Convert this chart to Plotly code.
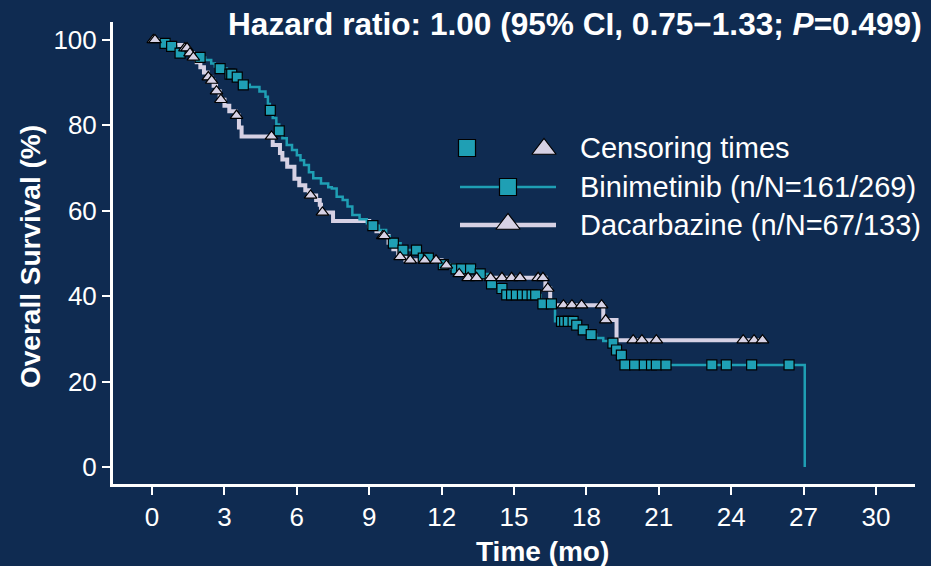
import plotly.graph_objects as go

# ---------------- data ----------------
bini_t = [0, 0.7, 0.8, 1.0, 1.15, 1.6, 1.99, 2.2, 2.45, 2.6, 2.8, 3.1, 3.23, 3.5, 3.7, 3.78,
          4.05, 4.45, 4.7, 4.8, 4.88, 5.0, 5.15, 5.27, 5.4, 5.58, 5.8, 6.0, 6.15, 6.3, 6.5,
          6.68, 7.0, 7.3, 7.45, 7.65, 7.9, 8.1, 8.3, 8.6, 8.9, 9.1, 9.4, 9.7, 9.85, 10.0,
          10.3, 10.4, 11.1, 11.6, 11.9, 12.4, 13.4, 14.0, 14.3, 14.65, 16.1, 16.7, 17.5,
          17.75, 18.1, 18.4, 18.7, 19.0, 19.2, 19.4, 19.55, 27.05]
bini_s = [100, 99.2, 98.5, 97.6, 96.9, 96.4, 95.9, 95.3, 94.5, 93.8, 93.3, 92.6, 92.0, 91.3, 90.4, 89.5,
          89.0, 87.9, 86.7, 85.0, 83.5, 81.7, 80.2, 78.7, 77.0, 75.4, 74.2, 73.0, 71.8, 70.7, 69.0,
          67.6, 66.4, 65.5, 65.2, 63.3, 62.5, 61.0, 59.0, 58.0, 57.1, 56.5, 55.5, 54.0, 53.0, 52.4,
          51.3, 50.8, 48.9, 48.0, 47.4, 46.4, 45.2, 42.9, 41.8, 40.3, 38.2, 34.1, 33.2,
          32.1, 31.0, 30.2, 29.5, 29.0, 27.4, 26.2, 23.9, 0]
bini_cens_t = [0.54, 0.81, 1.16, 1.99, 2.82, 3.23, 3.3, 3.53, 3.78, 4.9, 5.27,
               9.15, 10.0, 10.4, 10.96, 11.24, 11.45, 12.07, 12.6, 12.83, 13.2, 13.6, 14.07, 14.5,
               14.7, 14.9, 15.1, 15.35, 15.55, 15.75, 15.9, 16.2, 16.55, 16.97, 17.1, 17.25,
               17.45, 17.6, 17.87, 18.2, 19.1, 19.25, 19.45, 19.6, 20.0, 20.4, 20.7, 20.9,
               21.3, 23.2, 23.8, 24.85, 26.4]
bini_cens_s = [99.2, 98.5, 96.9, 95.9, 93.3, 92.0, 92.0, 91.3, 89.5, 83.5, 78.7,
               56.5, 52.4, 50.8, 50.8, 48.9, 48.9, 47.4, 46.4, 46.4, 46.4, 45.2, 42.9, 41.8,
               40.3, 40.3, 40.3, 40.3, 40.3, 40.3, 40.3, 38.2, 38.2, 34.1, 34.1, 34.1,
               34.1, 33.2, 32.1, 31.0, 29.0, 27.4, 26.2, 23.9, 23.9, 23.9, 23.9, 23.9,
               23.9, 23.9, 23.9, 23.9, 23.9]

dac_t = [0, 0.6, 0.9, 1.3, 1.5, 1.7, 1.85, 2.0, 2.15, 2.3, 2.45, 2.55, 2.65, 2.8, 3.0, 3.2,
         3.45, 3.6, 3.71, 5.0, 5.3, 5.4, 5.6, 5.9, 6.1, 6.35, 6.5, 6.8, 6.95, 7.0, 7.5,
         9.0, 9.3, 9.5, 9.8, 10.0, 10.2, 10.5, 12.0, 12.5, 12.7, 13.0, 16.3, 16.5, 18.7,
         19.25, 25.35]
dac_s = [100, 99.3, 98.8, 98.1, 96.9, 95.9, 94.8, 93.6, 92.4, 91.3, 90.5, 89.3, 88.0, 86.0, 84.6, 83.3,
         82.3, 79.5, 77.4, 75.4, 73.5, 72.0, 70.3, 67.5, 66.0, 64.8, 63.6, 62.5, 61.4, 59.6, 57.6,
         56.3, 55.2, 54.1, 52.5, 51.0, 49.2, 48.4, 47.2, 46.0, 45.2, 44.3, 41.8, 37.9, 34.4,
         29.7, 29.7]
dac_cens_t = [0.05, 0.12, 1.36, 1.45, 1.57, 1.71, 2.33, 2.47, 2.67, 2.85, 3.5, 4.95, 6.57, 7.06,
              9.56, 9.62, 10.28, 10.7, 11.3, 11.77, 12.2, 12.73, 13.1, 13.45, 14.03, 14.5,
              14.9, 15.25, 16.0, 16.2, 16.4, 17.05, 17.4, 17.8, 18.63, 18.8, 19.94, 20.3,
              20.9, 24.5, 24.95, 25.3]
dac_cens_s = [100, 100, 98.1, 98.1, 96.9, 95.9, 91.3, 90.5, 88.0, 86.0, 82.3, 77.4, 63.6, 59.6,
              54.1, 54.1, 49.2, 48.4, 48.4, 48.4, 47.2, 45.2, 44.3, 44.3, 44.3, 44.3,
              44.3, 44.3, 44.3, 44.3, 41.8, 37.9, 37.9, 37.9, 37.9, 34.4, 29.7, 29.7,
              29.7, 29.7, 29.7, 29.7]

x_ticks = [0, 3, 6, 9, 12, 15, 18, 21, 24, 27, 30]
y_ticks = [0, 20, 40, 60, 80, 100]

legend_labels = ["Censoring times", "Binimetinib (n/N=161/269)", "Dacarbazine (n/N=67/133)"]
title_text = "<b>Hazard ratio: 1.00 (95% CI, 0.75\u22121.33; <i>P</i>=0.499)</b>"
x_title = "<b>Time (mo)</b>"
y_title = "<b>Overall Survival (%)</b>"

# ---------------- styles ----------------
BG = "#0f2b51"
TEAL = "#1f9fb4"
LAV = "#d6d1e4"
WHITE = "#ffffff"
FONT = "Liberation Sans, Arial, sans-serif"

fig = go.Figure()

fig.add_trace(go.Scatter(x=dac_t, y=dac_s, mode="lines", line=dict(color=LAV, width=4, shape="hv"),
                         showlegend=False, hoverinfo="skip"))
fig.add_trace(go.Scatter(x=bini_t, y=bini_s, mode="lines", line=dict(color=TEAL, width=2.5, shape="hv"),
                         showlegend=False, hoverinfo="skip"))
fig.add_trace(go.Scatter(x=bini_cens_t, y=bini_cens_s, mode="markers",
                         marker=dict(symbol="square", size=10, color=TEAL, line=dict(color="#000000", width=1.2)),
                         showlegend=False, hoverinfo="skip"))
fig.add_trace(go.Scatter(x=dac_cens_t, y=dac_cens_s, mode="markers",
                         marker=dict(symbol="triangle-up", size=11, color=LAV, line=dict(color="#000000", width=1.2)),
                         showlegend=False, hoverinfo="skip"))

# ---------------- manual legend on an overlay pixel axis ----------------
L, R, T, B = 113, 16, 22, 82
W, H = 931 - L - R, 566 - T - B
def px(x):
    return x - L
def py(y):
    return y - T
def pap_x(x):
    return (x - L) / W
def pap_y(y):
    return 1 - (y - T) / H

rows_y = [148, 187, 225]
fig.add_trace(go.Scatter(x=[px(460), px(556)], y=[py(rows_y[1])] * 2, mode="lines",
                         line=dict(color=TEAL, width=2.5), xaxis="x2", yaxis="y2", showlegend=False, hoverinfo="skip"))
fig.add_trace(go.Scatter(x=[px(460), px(556)], y=[py(rows_y[2])] * 2, mode="lines",
                         line=dict(color=LAV, width=4.5), xaxis="x2", yaxis="y2", showlegend=False, hoverinfo="skip"))
fig.add_trace(go.Scatter(x=[px(467), px(508)], y=[py(rows_y[0]), py(rows_y[1])], mode="markers",
                         marker=dict(symbol="square", size=17, color=TEAL, line=dict(color="#000000", width=1.2)),
                         xaxis="x2", yaxis="y2", showlegend=False, hoverinfo="skip"))
fig.add_trace(go.Scatter(x=[px(544), px(508)], y=[py(rows_y[0]) + 1, py(rows_y[2]) - 1], mode="markers",
                         marker=dict(symbol="triangle-up", size=21, color=LAV, line=dict(color="#000000", width=1.2)),
                         xaxis="x2", yaxis="y2", showlegend=False, hoverinfo="skip"))

annotations = []
for lab, yy in zip(legend_labels, rows_y):
    annotations.append(dict(x=pap_x(578), y=pap_y(yy), xref="paper", yref="paper", text=lab, showarrow=False,
                            xanchor="left", yanchor="middle",
                            font=dict(family=FONT, size=29, color=WHITE)))
annotations.append(dict(x=pap_x(924), y=pap_y(24), xref="paper", yref="paper", text=title_text,
                        showarrow=False, xanchor="right", yanchor="middle",
                        font=dict(family=FONT, size=31.6, color=WHITE)))
annotations.append(dict(x=pap_x(542), y=pap_y(551), xref="paper", yref="paper", text=x_title,
                        showarrow=False, xanchor="center", yanchor="middle",
                        font=dict(family=FONT, size=28, color=WHITE)))
annotations.append(dict(x=pap_x(30), y=pap_y(257), xref="paper", yref="paper", text=y_title, textangle=-90,
                        showarrow=False, xanchor="center", yanchor="middle",
                        font=dict(family=FONT, size=28, color=WHITE)))

fig.update_layout(
    width=931, height=566,
    margin=dict(l=L, r=R, t=T, b=B, pad=0),
    paper_bgcolor=BG, plot_bgcolor=BG,
    font=dict(family=FONT, color=WHITE, size=22),
    showlegend=False,
    annotations=annotations,
    xaxis=dict(range=[-1.62, 31.62], tickvals=x_ticks, ticktext=[str(v) for v in x_ticks],
               showgrid=False, zeroline=False, showline=True, linecolor=WHITE, linewidth=3,
               ticks="outside", ticklen=8, tickwidth=2, tickcolor=WHITE,
               tickfont=dict(family=FONT, size=26, color=WHITE)),
    yaxis=dict(range=[-3.98, 104.2], tickvals=y_ticks, ticktext=[str(v) for v in y_ticks],
               showgrid=False, zeroline=False, showline=True, linecolor=WHITE, linewidth=3,
               ticks="outside", ticklen=8, tickwidth=2, tickcolor=WHITE,
               tickfont=dict(family=FONT, size=26, color=WHITE)),
    xaxis2=dict(overlaying="x", range=[0, W], visible=False, fixedrange=True),
    yaxis2=dict(overlaying="y", range=[H, 0], visible=False, fixedrange=True),
)

fig.write_html("out.html", config={"displayModeBar": False},
               post_script="document.body.style.margin='0';document.body.style.overflow='hidden';")
